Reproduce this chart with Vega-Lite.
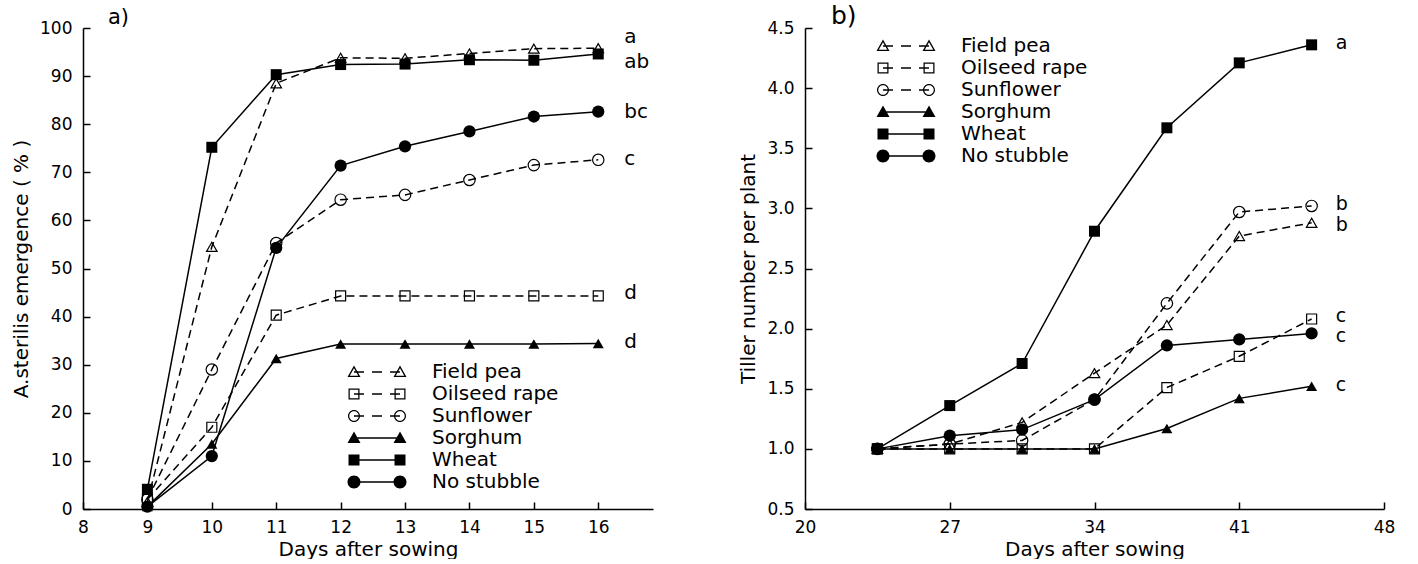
{
  "$schema": "https://vega.github.io/schema/vega-lite/v6.json",
  "background": "white",
  "padding": {"left": 11, "top": 4, "right": 5, "bottom": 0},
  "datasets": {
    "emergence": [
      {"crop": "Field pea", "day": 9, "value": 1.5}, {"crop": "Field pea", "day": 10, "value": 54.5}, {"crop": "Field pea", "day": 11, "value": 88.5}, {"crop": "Field pea", "day": 12, "value": 93.8}, {"crop": "Field pea", "day": 13, "value": 93.7}, {"crop": "Field pea", "day": 14, "value": 94.7}, {"crop": "Field pea", "day": 15, "value": 95.7}, {"crop": "Field pea", "day": 16, "value": 95.8},
      {"crop": "Oilseed rape", "day": 9, "value": 2}, {"crop": "Oilseed rape", "day": 10, "value": 17}, {"crop": "Oilseed rape", "day": 11, "value": 40.3}, {"crop": "Oilseed rape", "day": 12, "value": 44.3}, {"crop": "Oilseed rape", "day": 13, "value": 44.3}, {"crop": "Oilseed rape", "day": 14, "value": 44.3}, {"crop": "Oilseed rape", "day": 15, "value": 44.3}, {"crop": "Oilseed rape", "day": 16, "value": 44.3},
      {"crop": "Sunflower", "day": 9, "value": 2}, {"crop": "Sunflower", "day": 10, "value": 29}, {"crop": "Sunflower", "day": 11, "value": 55.3}, {"crop": "Sunflower", "day": 12, "value": 64.3}, {"crop": "Sunflower", "day": 13, "value": 65.3}, {"crop": "Sunflower", "day": 14, "value": 68.4}, {"crop": "Sunflower", "day": 15, "value": 71.5}, {"crop": "Sunflower", "day": 16, "value": 72.6},
      {"crop": "Sorghum", "day": 9, "value": 0.5}, {"crop": "Sorghum", "day": 10, "value": 13.5}, {"crop": "Sorghum", "day": 11, "value": 31.3}, {"crop": "Sorghum", "day": 12, "value": 34.3}, {"crop": "Sorghum", "day": 13, "value": 34.3}, {"crop": "Sorghum", "day": 14, "value": 34.3}, {"crop": "Sorghum", "day": 15, "value": 34.3}, {"crop": "Sorghum", "day": 16, "value": 34.4},
      {"crop": "Wheat", "day": 9, "value": 4.1}, {"crop": "Wheat", "day": 10, "value": 75.2}, {"crop": "Wheat", "day": 11, "value": 90.3}, {"crop": "Wheat", "day": 12, "value": 92.4}, {"crop": "Wheat", "day": 13, "value": 92.5}, {"crop": "Wheat", "day": 14, "value": 93.4}, {"crop": "Wheat", "day": 15, "value": 93.3}, {"crop": "Wheat", "day": 16, "value": 94.6},
      {"crop": "No stubble", "day": 9, "value": 0.5}, {"crop": "No stubble", "day": 10, "value": 11}, {"crop": "No stubble", "day": 11, "value": 54.3}, {"crop": "No stubble", "day": 12, "value": 71.4}, {"crop": "No stubble", "day": 13, "value": 75.4}, {"crop": "No stubble", "day": 14, "value": 78.5}, {"crop": "No stubble", "day": 15, "value": 81.6}, {"crop": "No stubble", "day": 16, "value": 82.6}
    ],
    "tillers": [
      {"crop": "Field pea", "day": 23.5, "value": 1.0}, {"crop": "Field pea", "day": 27, "value": 1.04}, {"crop": "Field pea", "day": 30.5, "value": 1.22}, {"crop": "Field pea", "day": 34, "value": 1.63}, {"crop": "Field pea", "day": 37.5, "value": 2.03}, {"crop": "Field pea", "day": 41, "value": 2.77}, {"crop": "Field pea", "day": 44.5, "value": 2.88},
      {"crop": "Oilseed rape", "day": 23.5, "value": 1.0}, {"crop": "Oilseed rape", "day": 27, "value": 1.0}, {"crop": "Oilseed rape", "day": 30.5, "value": 1.0}, {"crop": "Oilseed rape", "day": 34, "value": 1.0}, {"crop": "Oilseed rape", "day": 37.5, "value": 1.51}, {"crop": "Oilseed rape", "day": 41, "value": 1.77}, {"crop": "Oilseed rape", "day": 44.5, "value": 2.08},
      {"crop": "Sunflower", "day": 23.5, "value": 1.0}, {"crop": "Sunflower", "day": 27, "value": 1.04}, {"crop": "Sunflower", "day": 30.5, "value": 1.07}, {"crop": "Sunflower", "day": 34, "value": 1.41}, {"crop": "Sunflower", "day": 37.5, "value": 2.21}, {"crop": "Sunflower", "day": 41, "value": 2.97}, {"crop": "Sunflower", "day": 44.5, "value": 3.02},
      {"crop": "Sorghum", "day": 23.5, "value": 1.0}, {"crop": "Sorghum", "day": 27, "value": 1.0}, {"crop": "Sorghum", "day": 30.5, "value": 1.0}, {"crop": "Sorghum", "day": 34, "value": 1.0}, {"crop": "Sorghum", "day": 37.5, "value": 1.17}, {"crop": "Sorghum", "day": 41, "value": 1.42}, {"crop": "Sorghum", "day": 44.5, "value": 1.52},
      {"crop": "Wheat", "day": 23.5, "value": 1.0}, {"crop": "Wheat", "day": 27, "value": 1.36}, {"crop": "Wheat", "day": 30.5, "value": 1.71}, {"crop": "Wheat", "day": 34, "value": 2.81}, {"crop": "Wheat", "day": 37.5, "value": 3.67}, {"crop": "Wheat", "day": 41, "value": 4.21}, {"crop": "Wheat", "day": 44.5, "value": 4.36},
      {"crop": "No stubble", "day": 23.5, "value": 1.0}, {"crop": "No stubble", "day": 27, "value": 1.11}, {"crop": "No stubble", "day": 30.5, "value": 1.16}, {"crop": "No stubble", "day": 34, "value": 1.41}, {"crop": "No stubble", "day": 37.5, "value": 1.86}, {"crop": "No stubble", "day": 41, "value": 1.91}, {"crop": "No stubble", "day": 44.5, "value": 1.96}
    ],
    "lettersA": [
      {"label": "a", "x": 16, "y": 98.1}, {"label": "ab", "x": 16, "y": 92.9}, {"label": "bc", "x": 16, "y": 82.5}, {"label": "c", "x": 16, "y": 72.8}, {"label": "d", "x": 16, "y": 44.9}, {"label": "d", "x": 16, "y": 34.7}
    ],
    "lettersB": [
      {"label": "a", "x": 44.5, "y": 4.375}, {"label": "b", "x": 44.5, "y": 3.036}, {"label": "b", "x": 44.5, "y": 2.862}, {"label": "c", "x": 44.5, "y": 2.108}, {"label": "c", "x": 44.5, "y": 1.94}, {"label": "c", "x": 44.5, "y": 1.531}
    ]
  },
  "spacing": 85,
  "hconcat": [
    {
      "width": 570,
      "height": 481,
      "title": {"text": "a)", "anchor": "start", "frame": "group", "dx": 25, "offset": -9, "fontSize": 21},
      "layer": [
        {
          "data": {"name": "emergence"},
          "transform": [{"filter": "indexof(['Field pea','Oilseed rape','Sunflower'], datum.crop) >= 0"}],
          "mark": {"type": "line", "color": "black", "strokeWidth": 1.5, "strokeDash": [8, 5]},
          "encoding": {
            "x": {"field": "day", "type": "quantitative", "scale": {"domain": [8, 16.85], "nice": false, "zero": false}, "axis": {"values": [8, 9, 10, 11, 12, 13, 14, 15, 16], "format": "d", "title": "Days after sowing"}},
            "y": {"field": "value", "type": "quantitative", "scale": {"domain": [0, 100], "nice": false}, "axis": {"values": [0, 10, 20, 30, 40, 50, 60, 70, 80, 90, 100], "format": "d", "title": "A.sterilis emergence ( % )"}},
            "detail": {"field": "crop", "type": "nominal"}
          }
        },
        {
          "data": {"name": "emergence"},
          "transform": [{"filter": "indexof(['Sorghum','Wheat','No stubble'], datum.crop) >= 0"}],
          "mark": {"type": "line", "color": "black", "strokeWidth": 1.5},
          "encoding": {"x": {"field": "day", "type": "quantitative"}, "y": {"field": "value", "type": "quantitative"}, "detail": {"field": "crop", "type": "nominal"}}
        },
        {
          "data": {"name": "emergence"},
          "transform": [{"filter": "datum.crop == 'Field pea'"}],
          "mark": {"type": "point", "shape": "triangle-up", "filled": false, "stroke": "black", "strokeWidth": 1.2, "size": 110, "opacity": 1},
          "encoding": {"x": {"field": "day", "type": "quantitative"}, "y": {"field": "value", "type": "quantitative"}}
        },
        {
          "data": {"name": "emergence"},
          "transform": [{"filter": "datum.crop == 'Oilseed rape'"}],
          "mark": {"type": "point", "shape": "square", "filled": false, "stroke": "black", "strokeWidth": 1.2, "size": 100, "opacity": 1},
          "encoding": {"x": {"field": "day", "type": "quantitative"}, "y": {"field": "value", "type": "quantitative"}}
        },
        {
          "data": {"name": "emergence"},
          "transform": [{"filter": "datum.crop == 'Sunflower'"}],
          "mark": {"type": "point", "shape": "circle", "filled": false, "stroke": "black", "strokeWidth": 1.2, "size": 130, "opacity": 1},
          "encoding": {"x": {"field": "day", "type": "quantitative"}, "y": {"field": "value", "type": "quantitative"}}
        },
        {
          "data": {"name": "emergence"},
          "transform": [{"filter": "datum.crop == 'Sorghum'"}],
          "mark": {"type": "point", "shape": "triangle-up", "filled": true, "color": "black", "size": 121, "opacity": 1},
          "encoding": {"x": {"field": "day", "type": "quantitative"}, "y": {"field": "value", "type": "quantitative"}}
        },
        {
          "data": {"name": "emergence"},
          "transform": [{"filter": "datum.crop == 'Wheat'"}],
          "mark": {"type": "point", "shape": "square", "filled": true, "color": "black", "size": 121, "opacity": 1},
          "encoding": {"x": {"field": "day", "type": "quantitative"}, "y": {"field": "value", "type": "quantitative"}}
        },
        {
          "data": {"name": "emergence"},
          "transform": [{"filter": "datum.crop == 'No stubble'"}],
          "mark": {"type": "point", "shape": "circle", "filled": true, "color": "black", "size": 150, "opacity": 1},
          "encoding": {"x": {"field": "day", "type": "quantitative"}, "y": {"field": "value", "type": "quantitative"}}
        },
        {
          "data": {"name": "emergence"},
          "transform": [{"filter": "datum.day < 0"}],
          "mark": {"type": "point", "filled": true, "color": "black", "strokeWidth": 0, "opacity": 0},
          "encoding": {
            "x": {"field": "day", "type": "quantitative"},
            "y": {"field": "value", "type": "quantitative"},
            "shape": {"field": "crop", "type": "nominal",
              "scale": {"domain": ["Field pea", "Oilseed rape", "Sunflower", "Sorghum", "Wheat", "No stubble"],
                "range": [
                  "M-5.9,1L-4.6,-1.3L-3.3,1Z M-3.75,0.75L-4.6,-0.75L-5.45,0.75Z M3.3,1L4.6,-1.3L5.9,1Z M5.45,0.75L4.6,-0.75L3.75,0.75Z M-4.6,-0.15H-2.6V0.15H-4.6Z M-1,-0.15H1V0.15H-1Z M2.6,-0.15H4.6V0.15H2.6Z",
                  "M-5.7,-1.1H-3.5V1.1H-5.7Z M-5.45,-0.85V0.85H-3.75V-0.85Z M3.5,-1.1H5.7V1.1H3.5Z M3.75,-0.85V0.85H5.45V-0.85Z M-4.6,-0.15H-2.6V0.15H-4.6Z M-1,-0.15H1V0.15H-1Z M2.6,-0.15H4.6V0.15H2.6Z",
                  "M-5.8,0A1.2,1.2 0 1,1 -3.4,0A1.2,1.2 0 1,1 -5.8,0Z M-5.55,0A0.95,0.95 0 1,0 -3.65,0A0.95,0.95 0 1,0 -5.55,0Z M3.4,0A1.2,1.2 0 1,1 5.8,0A1.2,1.2 0 1,1 3.4,0Z M3.65,0A0.95,0.95 0 1,0 5.55,0A0.95,0.95 0 1,0 3.65,0Z M-4.6,-0.15H-2.6V0.15H-4.6Z M-1,-0.15H1V0.15H-1Z M2.6,-0.15H4.6V0.15H2.6Z",
                  "M-5.9,1L-4.6,-1.3L-3.3,1Z M3.3,1L4.6,-1.3L5.9,1Z M-4.6,-0.15H4.6V0.15H-4.6Z",
                  "M-5.7,-1.1H-3.5V1.1H-5.7Z M3.5,-1.1H5.7V1.1H3.5Z M-4.6,-0.15H4.6V0.15H-4.6Z",
                  "M-5.9,0A1.3,1.3 0 1,1 -3.3,0A1.3,1.3 0 1,1 -5.9,0Z M3.3,0A1.3,1.3 0 1,1 5.9,0A1.3,1.3 0 1,1 3.3,0Z M-4.6,-0.15H4.6V0.15H-4.6Z"
                ]},
              "legend": {"title": null, "orient": "none", "direction": "vertical", "legendX": 284, "legendY": 334, "labelOffset": 45, "symbolOpacity": 1, "symbolFillColor": "black", "symbolStrokeWidth": 0, "symbolSize": 100}
            }
          }
        },
        {
          "data": {"name": "lettersA"},
          "mark": {"type": "text", "align": "left", "baseline": "middle", "dx": 26, "fontSize": 20, "font": "DejaVu Sans", "fill": "black"},
          "encoding": {"x": {"field": "x", "type": "quantitative"}, "y": {"field": "y", "type": "quantitative"}, "text": {"field": "label"}}
        }
      ]
    },
    {
      "width": 579,
      "height": 481,
      "title": {"text": "b)", "anchor": "start", "frame": "group", "dx": 26, "offset": -10, "fontSize": 25},
      "layer": [
        {
          "data": {"name": "tillers"},
          "transform": [{"filter": "indexof(['Field pea','Oilseed rape','Sunflower'], datum.crop) >= 0"}],
          "mark": {"type": "line", "color": "black", "strokeWidth": 1.5, "strokeDash": [8, 5]},
          "encoding": {
            "x": {"field": "day", "type": "quantitative", "scale": {"domain": [20, 48], "nice": false, "zero": false}, "axis": {"values": [20, 27, 34, 41, 48], "format": "d", "title": "Days after sowing"}},
            "y": {"field": "value", "type": "quantitative", "scale": {"domain": [0.5, 4.5], "nice": false, "zero": false}, "axis": {"values": [0.5, 1, 1.5, 2, 2.5, 3, 3.5, 4, 4.5], "format": ".1f", "title": "Tiller number per plant"}},
            "detail": {"field": "crop", "type": "nominal"}
          }
        },
        {
          "data": {"name": "tillers"},
          "transform": [{"filter": "indexof(['Sorghum','Wheat','No stubble'], datum.crop) >= 0"}],
          "mark": {"type": "line", "color": "black", "strokeWidth": 1.5},
          "encoding": {"x": {"field": "day", "type": "quantitative"}, "y": {"field": "value", "type": "quantitative"}, "detail": {"field": "crop", "type": "nominal"}}
        },
        {
          "data": {"name": "tillers"},
          "transform": [{"filter": "datum.crop == 'Field pea'"}],
          "mark": {"type": "point", "shape": "triangle-up", "filled": false, "stroke": "black", "strokeWidth": 1.2, "size": 110, "opacity": 1},
          "encoding": {"x": {"field": "day", "type": "quantitative"}, "y": {"field": "value", "type": "quantitative"}}
        },
        {
          "data": {"name": "tillers"},
          "transform": [{"filter": "datum.crop == 'Oilseed rape'"}],
          "mark": {"type": "point", "shape": "square", "filled": false, "stroke": "black", "strokeWidth": 1.2, "size": 100, "opacity": 1},
          "encoding": {"x": {"field": "day", "type": "quantitative"}, "y": {"field": "value", "type": "quantitative"}}
        },
        {
          "data": {"name": "tillers"},
          "transform": [{"filter": "datum.crop == 'Sunflower'"}],
          "mark": {"type": "point", "shape": "circle", "filled": false, "stroke": "black", "strokeWidth": 1.2, "size": 130, "opacity": 1},
          "encoding": {"x": {"field": "day", "type": "quantitative"}, "y": {"field": "value", "type": "quantitative"}}
        },
        {
          "data": {"name": "tillers"},
          "transform": [{"filter": "datum.crop == 'Sorghum'"}],
          "mark": {"type": "point", "shape": "triangle-up", "filled": true, "color": "black", "size": 121, "opacity": 1},
          "encoding": {"x": {"field": "day", "type": "quantitative"}, "y": {"field": "value", "type": "quantitative"}}
        },
        {
          "data": {"name": "tillers"},
          "transform": [{"filter": "datum.crop == 'Wheat'"}],
          "mark": {"type": "point", "shape": "square", "filled": true, "color": "black", "size": 121, "opacity": 1},
          "encoding": {"x": {"field": "day", "type": "quantitative"}, "y": {"field": "value", "type": "quantitative"}}
        },
        {
          "data": {"name": "tillers"},
          "transform": [{"filter": "datum.crop == 'No stubble'"}],
          "mark": {"type": "point", "shape": "circle", "filled": true, "color": "black", "size": 150, "opacity": 1},
          "encoding": {"x": {"field": "day", "type": "quantitative"}, "y": {"field": "value", "type": "quantitative"}}
        },
        {
          "data": {"name": "tillers"},
          "transform": [{"filter": "datum.day < 0"}],
          "mark": {"type": "point", "filled": true, "color": "black", "strokeWidth": 0, "opacity": 0},
          "encoding": {
            "x": {"field": "day", "type": "quantitative"},
            "y": {"field": "value", "type": "quantitative"},
            "shape": {"field": "crop", "type": "nominal",
              "scale": {"domain": ["Field pea", "Oilseed rape", "Sunflower", "Sorghum", "Wheat", "No stubble"],
                "range": [
                  "M-5.9,1L-4.6,-1.3L-3.3,1Z M-3.75,0.75L-4.6,-0.75L-5.45,0.75Z M3.3,1L4.6,-1.3L5.9,1Z M5.45,0.75L4.6,-0.75L3.75,0.75Z M-4.6,-0.15H-2.6V0.15H-4.6Z M-1,-0.15H1V0.15H-1Z M2.6,-0.15H4.6V0.15H2.6Z",
                  "M-5.7,-1.1H-3.5V1.1H-5.7Z M-5.45,-0.85V0.85H-3.75V-0.85Z M3.5,-1.1H5.7V1.1H3.5Z M3.75,-0.85V0.85H5.45V-0.85Z M-4.6,-0.15H-2.6V0.15H-4.6Z M-1,-0.15H1V0.15H-1Z M2.6,-0.15H4.6V0.15H2.6Z",
                  "M-5.8,0A1.2,1.2 0 1,1 -3.4,0A1.2,1.2 0 1,1 -5.8,0Z M-5.55,0A0.95,0.95 0 1,0 -3.65,0A0.95,0.95 0 1,0 -5.55,0Z M3.4,0A1.2,1.2 0 1,1 5.8,0A1.2,1.2 0 1,1 3.4,0Z M3.65,0A0.95,0.95 0 1,0 5.55,0A0.95,0.95 0 1,0 3.65,0Z M-4.6,-0.15H-2.6V0.15H-4.6Z M-1,-0.15H1V0.15H-1Z M2.6,-0.15H4.6V0.15H2.6Z",
                  "M-5.9,1L-4.6,-1.3L-3.3,1Z M3.3,1L4.6,-1.3L5.9,1Z M-4.6,-0.15H4.6V0.15H-4.6Z",
                  "M-5.7,-1.1H-3.5V1.1H-5.7Z M3.5,-1.1H5.7V1.1H3.5Z M-4.6,-0.15H4.6V0.15H-4.6Z",
                  "M-5.9,0A1.3,1.3 0 1,1 -3.3,0A1.3,1.3 0 1,1 -5.9,0Z M3.3,0A1.3,1.3 0 1,1 5.9,0A1.3,1.3 0 1,1 3.3,0Z M-4.6,-0.15H4.6V0.15H-4.6Z"
                ]},
              "legend": {"title": null, "orient": "none", "direction": "vertical", "legendX": 91, "legendY": 8, "labelOffset": 45, "symbolOpacity": 1, "symbolFillColor": "black", "symbolStrokeWidth": 0, "symbolSize": 100}
            }
          }
        },
        {
          "data": {"name": "lettersB"},
          "mark": {"type": "text", "align": "left", "baseline": "middle", "dx": 24, "fontSize": 19, "font": "DejaVu Sans", "fill": "black"},
          "encoding": {"x": {"field": "x", "type": "quantitative"}, "y": {"field": "y", "type": "quantitative"}, "text": {"field": "label"}}
        }
      ]
    }
  ],
  "resolve": {"scale": {"shape": "independent", "x": "independent", "y": "independent"}, "legend": {"shape": "independent"}},
  "config": {
    "view": {"stroke": null},
    "font": "DejaVu Sans",
    "axis": {"grid": false, "domainColor": "black", "domainWidth": 1.5, "tickColor": "black", "tickWidth": 1.5, "tickSize": -7, "labelColor": "black", "labelFont": "DejaVu Sans", "labelFontSize": 17, "titleColor": "black", "titleFont": "DejaVu Sans", "titleFontSize": 20, "titleFontWeight": "normal", "labelFlush": false, "labelOverlap": false, "labelBound": false},
    "axisX": {"labelPadding": 17, "titlePadding": 4},
    "axisY": {"labelPadding": 18, "titlePadding": 8},
    "legend": {"labelFont": "DejaVu Sans", "labelFontSize": 20, "labelColor": "black", "symbolSize": 100, "rowPadding": 2, "padding": 0},
    "title": {"font": "DejaVu Sans", "fontWeight": "normal", "color": "black"}
  }
}
